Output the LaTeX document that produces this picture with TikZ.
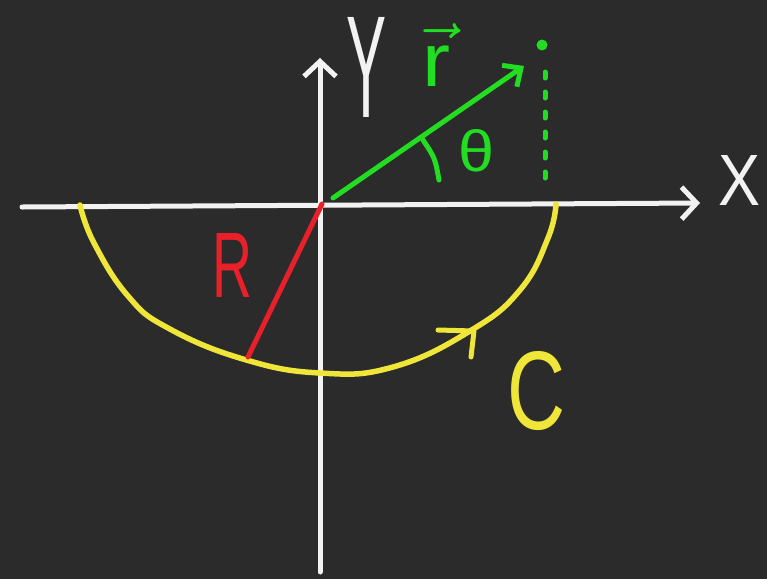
\documentclass[tikz,border=0pt]{standalone}
\usepackage{fontspec}
\setmainfont{Liberation Sans}
\usetikzlibrary{arrows.meta}
\definecolor{bg}{HTML}{2B2B2B}
\definecolor{axiswhite}{HTML}{F2F2F2}
\definecolor{cyellow}{HTML}{F0E63A}
\definecolor{cred}{HTML}{E8202A}
\definecolor{cgreen}{HTML}{22DD22}
\tikzset{
  stroke/.style={line width=5pt, line cap=round, line join=round},
  axisline/.style={stroke, draw=axiswhite, -{Straight Barb[length=15pt,width=32pt]}},
  lbl/.style={inner sep=0pt}
}
\begin{document}
\begin{tikzpicture}[x=1pt,y=-1pt]
\fill[bg] (0,0) rectangle (767,579);
\useasboundingbox (0,0) rectangle (767,579);
% coordinates
\coordinate (O) at (322,204);
\coordinate (xl) at (22,207);
\coordinate (xr) at (700,203);
\coordinate (yb) at (320,572);
\coordinate (yt) at (320,58);
\coordinate (Rend) at (248,357);
\coordinate (g0) at (333,198);
\coordinate (g1) at (524,66);
\coordinate (d0) at (545,72);
\coordinate (d1) at (545,192);
\coordinate (t0) at (423,140);
\coordinate (t1) at (439,180);
\coordinate (ctip) at (474,331);
\coordinate (carm1) at (438,330);
\coordinate (carm2) at (471,357);
% axes
\draw[axisline] (xl) -- (xr);
\draw[axisline] (yb) -- (yt);
% contour C
\draw[stroke, line width=5.5pt, cyellow]
  plot[smooth, tension=0.75] coordinates {(80,205) (94,243) (128,296) (168,328) (243,359) (320,373) (393,367) (470,331) (520,290) (548,238) (556,204)};
\draw[stroke, cyellow] (carm1) -- (ctip) -- (carm2);
% radius R
\draw[stroke, cred] (O) -- (Rend);
% vector r
\draw[stroke, cgreen, -{Straight Barb[length=14pt,width=26pt]}] (g0) -- (g1);
\fill[cgreen] (542,45) circle (5.5pt);
\draw[stroke, cgreen, dash pattern=on 6pt off 14pt] (d0) -- (d1);
\draw[stroke, cgreen] (t0) .. controls (435,158) .. (t1);
% labels
\node[lbl, text=axiswhite] (ylab) at (366,67) {\resizebox{40pt}{100pt}{Y}};
\node[lbl, text=axiswhite] (xlab) at (739,180) {\resizebox{42pt}{50pt}{X}};
\node[lbl, text=cgreen] (rlab) at (436,55) {\resizebox{28pt}{62pt}{$\vec{\hbox{r}}$}};
\node[lbl, text=cgreen] (tlab) at (477,151) {\resizebox{36pt}{42pt}{θ}};
\node[lbl, text=cred] (Rlab) at (233,265) {\resizebox{40pt}{64pt}{R}};
\node[lbl, text=cyellow] (Clab) at (537,391) {\resizebox{58pt}{78pt}{C}};
\end{tikzpicture}
\end{document}
